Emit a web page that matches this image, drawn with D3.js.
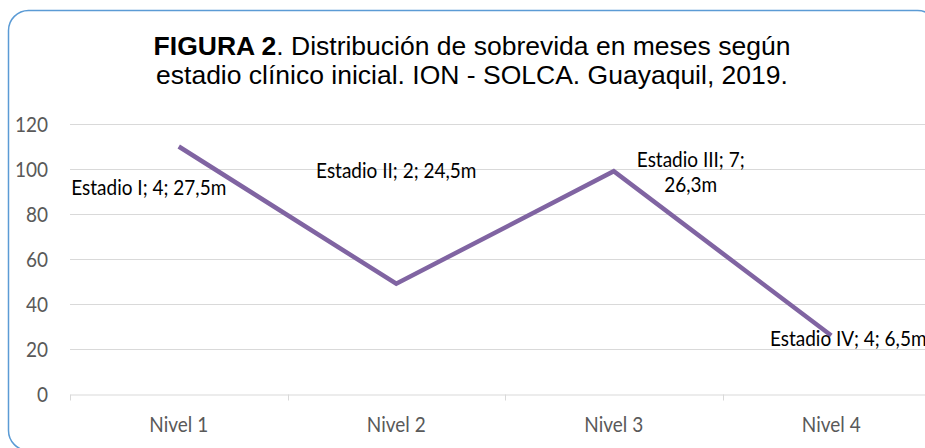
<!DOCTYPE html>
<html>
<head>
<meta charset="utf-8">
<script src="https://cdn.jsdelivr.net/npm/d3@7"></script>
<style>
  html, body { margin: 0; padding: 0; background: #fff; }
  svg { display: block; }
</style>
</head>
<body>
<svg id="chart" width="925" height="448"></svg>
<script>
// ---- data ----
const categories = ["Nivel 1", "Nivel 2", "Nivel 3", "Nivel 4"];
const values = [110, 49, 99, 26];
const pointLabels = [
  ["Estadio I; 4; 27,5m"],
  ["Estadio II; 2; 24,5m"],
  ["Estadio III; 7;", "26,3m"],
  ["Estadio IV; 4; 6,5m"]
];
const yTicks = [0, 20, 40, 60, 80, 100, 120];
const titleBold = "FIGURA 2";
const titleLine1 = ". Distribución de sobrevida en meses según";
const titleLine2 = "estadio clínico inicial. ION - SOLCA. Guayaquil, 2019.";

// ---- layout ----
const W = 925, H = 448;
const plot = { left: 70, right: 940, top: 124, bottom: 394 };
const SY = 1.12; // vertical stretch of Calibri-like text in the reference
const labelOffsets = [ // [dx, dy] of label centre/baseline relative to point
  [-30, 48], [0, -106], [77, -4], [17, 10]
];
const labelFont = "Lato, 'Open Sans', sans-serif";
const titleFont = "'Liberation Sans', Arial, sans-serif";

const svg = d3.select("#chart");

// frame
svg.append("rect")
  .attr("x", 8.5).attr("y", 10.5)
  .attr("width", 929).attr("height", 440)
  .attr("rx", 20).attr("ry", 20)
  .attr("fill", "#fff")
  .attr("stroke", "#5B9BD5").attr("stroke-width", 1.5);

const x = d3.scaleBand().domain(categories).range([plot.left, plot.right]).paddingInner(0).paddingOuter(0);
const y = d3.scaleLinear().domain([0, 120]).range([plot.bottom, plot.top]);

function stretchedText(g, tx, ty, txt, opts) {
  const sy = opts.sy === undefined ? SY : opts.sy;
  return g.append("text")
    .attr("transform", `translate(${tx},${ty}) scale(1,${sy})`)
    .attr("x", 0).attr("y", 0)
    .attr("text-anchor", opts.anchor || "start")
    .attr("font-family", opts.family)
    .attr("font-size", opts.size)
    .attr("fill", opts.fill || "#000")
    .text(txt);
}

// gridlines
const grid = svg.append("g");
grid.selectAll("line").data(yTicks.filter(d => d !== 0)).join("line")
  .attr("x1", plot.left).attr("x2", plot.right)
  .attr("y1", d => Math.round(y(d)) + 0.5).attr("y2", d => Math.round(y(d)) + 0.5)
  .attr("stroke", "#D9D9D9").attr("stroke-width", 1);

// x axis
const xAxis = d3.axisBottom(x).tickSize(0).tickFormat("");
const xg = svg.append("g").attr("transform", `translate(0,${Math.round(y(0)) + 0.5})`).call(xAxis);
xg.select(".domain").attr("stroke", "#D9D9D9").attr("stroke-width", 1.2);
// category boundary ticks
const bounds = categories.map(c => x(c)).concat([plot.right]);
xg.selectAll("line.bound").data(bounds).join("line").attr("class", "bound")
  .attr("x1", d => Math.round(d) + 0.5).attr("x2", d => Math.round(d) + 0.5)
  .attr("y1", 0).attr("y2", 6)
  .attr("stroke", "#D9D9D9").attr("stroke-width", 1);

// category labels
const catG = svg.append("g");
categories.forEach(c => {
  stretchedText(catG, x(c) + x.bandwidth() / 2, 432, c,
    { anchor: "middle", family: labelFont, size: 19, fill: "#595959" });
});

// y labels
const yG = svg.append("g");
yTicks.forEach(v => {
  stretchedText(yG, 48, y(v) + 7.5, String(v),
    { anchor: "end", family: labelFont, size: 19, fill: "#595959" });
});

// line
const line = d3.line()
  .x((d, i) => x(categories[i]) + x.bandwidth() / 2)
  .y(d => y(d));
svg.append("path").datum(values)
  .attr("d", line)
  .attr("fill", "none")
  .attr("stroke", "#8064A2")
  .attr("stroke-width", 4.5)
  .attr("stroke-linejoin", "miter");

// point labels
const lblG = svg.append("g");
values.forEach((v, i) => {
  const cx = x(categories[i]) + x.bandwidth() / 2 + labelOffsets[i][0];
  const cy = y(v) + labelOffsets[i][1];
  pointLabels[i].forEach((ln, j) => {
    stretchedText(lblG, cx, cy + j * 25, ln,
      { anchor: "middle", family: labelFont, size: 19, fill: "#000" });
  });
});

// title
const tG = svg.append("g");
const t1 = tG.append("text")
  .attr("x", 472).attr("y", 55)
  .attr("text-anchor", "middle")
  .attr("font-family", titleFont)
  .attr("font-size", 26.5).attr("fill", "#000");
t1.append("tspan").attr("font-weight", "bold").text(titleBold);
t1.append("tspan").text(titleLine1);
tG.append("text")
  .attr("x", 472).attr("y", 84)
  .attr("text-anchor", "middle")
  .attr("font-family", titleFont)
  .attr("font-size", 26.5).attr("fill", "#000")
  .text(titleLine2);
</script>
</body>
</html>
